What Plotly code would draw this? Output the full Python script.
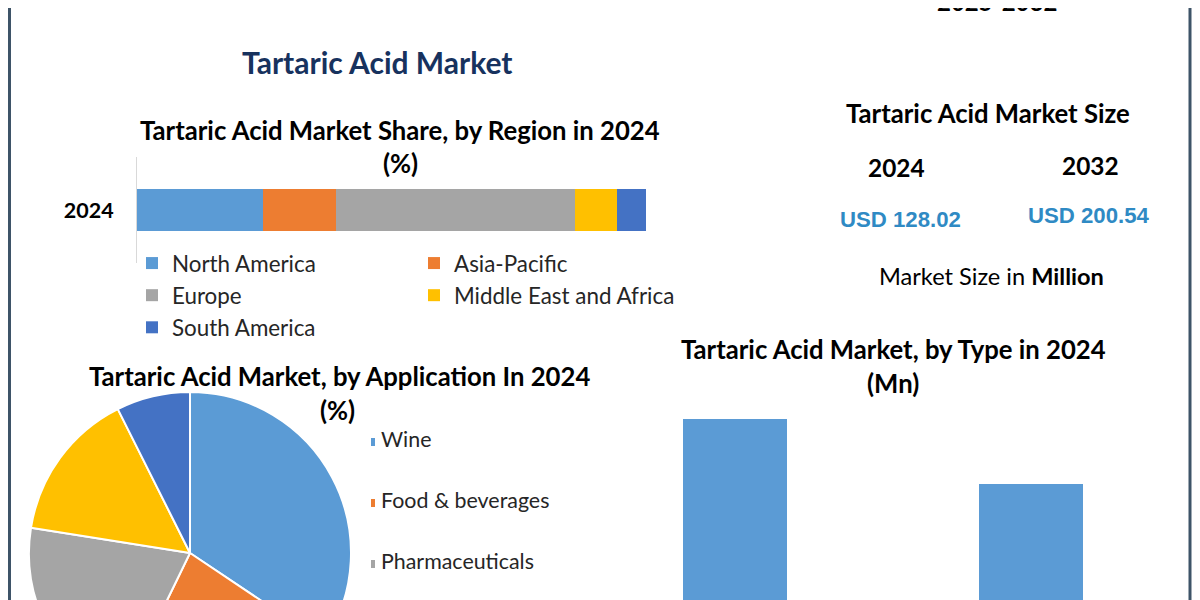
import plotly.graph_objects as go

# ---------------- data ----------------
regions = ["North America", "Asia-Pacific", "Europe", "Middle East and Africa", "South America"]
region_share = [24.8, 14.2, 47.1, 8.2, 5.7]
region_colors = ["#5b9bd5", "#ed7d31", "#a5a5a5", "#ffc000", "#4472c4"]
region_legend_col = ["legend", "legend2", "legend", "legend2", "legend"]
region_year = "2024"

applications = ["Wine", "Food & beverages", "Pharmaceuticals", "Cosmetics", "Others"]
app_share = [34.4, 22.8, 20.3, 15.1, 7.4]
app_colors = ["#5b9bd5", "#ed7d31", "#a5a5a5", "#ffc000", "#4472c4"]

types = ["Natural", "Synthetic"]
type_values = [72.3, 55.7]

size_years = ["2024", "2032"]
size_values = [128.02, 200.54]

# ---------------- layout helpers ----------------
# positions below are given in screen pixels; the page body adds an 8px margin
W, H = 1200, 760
OX, OY = 8, 8
FONT = "Lato"
HEAD = 25.7


def px(x):
    return (x - OX) / W


def py(y):
    return 1 - (y - OY) / H


fig = go.Figure()

# stacked region bar
for name, val, col, lg in zip(regions, region_share, region_colors, region_legend_col):
    fig.add_trace(go.Bar(
        y=[region_year], x=[val], name=name, orientation="h",
        marker=dict(color=col, line=dict(width=0)), width=0.396,
        xaxis="x", yaxis="y", legend=lg, legendgroup=name,
        hovertemplate=name + ": %{x}%<extra></extra>",
    ))

# type bar chart
fig.add_trace(go.Bar(
    x=types, y=type_values, marker=dict(color="#5b9bd5", line=dict(width=0)),
    width=0.351, xaxis="x2", yaxis="y2", showlegend=False,
    hovertemplate="%{x}: %{y} Mn<extra></extra>",
))

# application pie
fig.add_trace(go.Pie(
    labels=applications, values=app_share, sort=False, direction="clockwise",
    rotation=0, marker=dict(colors=app_colors, line=dict(color="white", width=2)),
    textinfo="none", showlegend=False,
    domain=dict(x=[px(29), px(351)], y=[py(714), py(392)]),
))

# pie legend (squares + labels)
fig.add_trace(go.Scatter(
    x=[0] * len(applications), y=list(range(len(applications))),
    mode="markers", marker=dict(symbol="square", size=8, color=app_colors),
    xaxis="x3", yaxis="y3", showlegend=False, hoverinfo="skip",
))
fig.add_trace(go.Scatter(
    x=[10] * len(applications), y=list(range(len(applications))),
    mode="text", text=applications, textposition="middle right",
    textfont=dict(family=FONT, size=21.4, color="#262626"),
    xaxis="x3", yaxis="y3", showlegend=False, hoverinfo="skip",
))

legend_common = dict(
    font=dict(family=FONT, size=22.4, color="#262626"),
    bgcolor="rgba(0,0,0,0)", orientation="v", traceorder="normal",
    tracegroupgap=0, itemclick=False, itemdoubleclick=False,
    xanchor="left", yanchor="top", itemwidth=30,
)

fig.update_layout(
    width=W, height=H,
    margin=dict(l=0, r=0, t=0, b=0),
    paper_bgcolor="white", plot_bgcolor="white",
    barmode="stack",
    font=dict(family=FONT, color="#000000"),
    legend=dict(x=px(132), y=py(242), **legend_common),
    legend2=dict(x=px(414), y=py(242), **legend_common),
    xaxis=dict(domain=[px(137), px(646)], range=[0, 100], visible=False,
               anchor="y", fixedrange=True),
    yaxis=dict(domain=[py(263), py(157)], type="category", showline=True,
               linecolor="#d9d9d9", linewidth=1, showgrid=False, ticks="",
               ticklabelstandoff=18, anchor="x",
               tickfont=dict(family=FONT, size=21.5, color="#000000", weight="bold"),
               fixedrange=True),
    xaxis2=dict(domain=[px(587), px(1179)], type="category", showgrid=False,
                showline=False, ticks="", anchor="y2",
                tickfont=dict(family=FONT, size=22, color="#000000", weight="bold"),
                fixedrange=True),
    yaxis2=dict(domain=[py(700), py(400)], range=[0, 300 / (281 / 72.3)],
                visible=False, anchor="x2", fixedrange=True),
    xaxis3=dict(domain=[px(371), px(640)], range=[0, 269], visible=False,
                anchor="y3", fixedrange=True),
    yaxis3=dict(domain=[py(742), py(412)], range=[(742 - 442) / 61, -30 / 61],
                visible=False, anchor="x3", fixedrange=True),
    showlegend=True,
)


def ann(text, x, y, size, color="#000000", bold=True, family=FONT):
    fig.add_annotation(
        text=text, x=px(x), y=py(y), xref="paper", yref="paper",
        xanchor="center", yanchor="middle", showarrow=False,
        font=dict(family=family, size=size, color=color,
                  weight="bold" if bold else "normal"),
    )


ann("2025-2032", 997, 1.5, 24)
ann("Tartaric Acid Market", 377, 62, 30, color="#17325e")
ann("Tartaric Acid Market Share, by Region in 2024", 400, 130, HEAD)
ann("(%)", 400, 163, HEAD)
ann("Tartaric Acid Market Size", 988, 113, HEAD)
for yr, val, xc, yy, vx, vy in zip(size_years, size_values, [896, 1090], [167, 165],
                                   [900, 1089], [220, 215]):
    ann(yr, xc, yy, 24.4)
    ann(f"USD {val:.2f}", vx, vy, 22.2, color="#2f8ac4", family="Liberation Sans")
ann("Market Size in <b>Million</b>", 992, 276, 23.6, bold=False)
ann("Tartaric Acid Market, by Application In 2024", 339, 376, HEAD)
ann("(%)", 337, 410, HEAD)
ann("Tartaric Acid Market, by Type in 2024", 893, 349, HEAD)
ann("(Mn)", 893, 383, HEAD)

# frame lines
for xl in [9.5, 1190]:
    fig.add_shape(type="line", xref="paper", yref="paper", x0=px(xl), x1=px(xl),
                  y0=0, y1=1.02, line=dict(color="#3e5468", width=3))

fig.write_html("out.html")
